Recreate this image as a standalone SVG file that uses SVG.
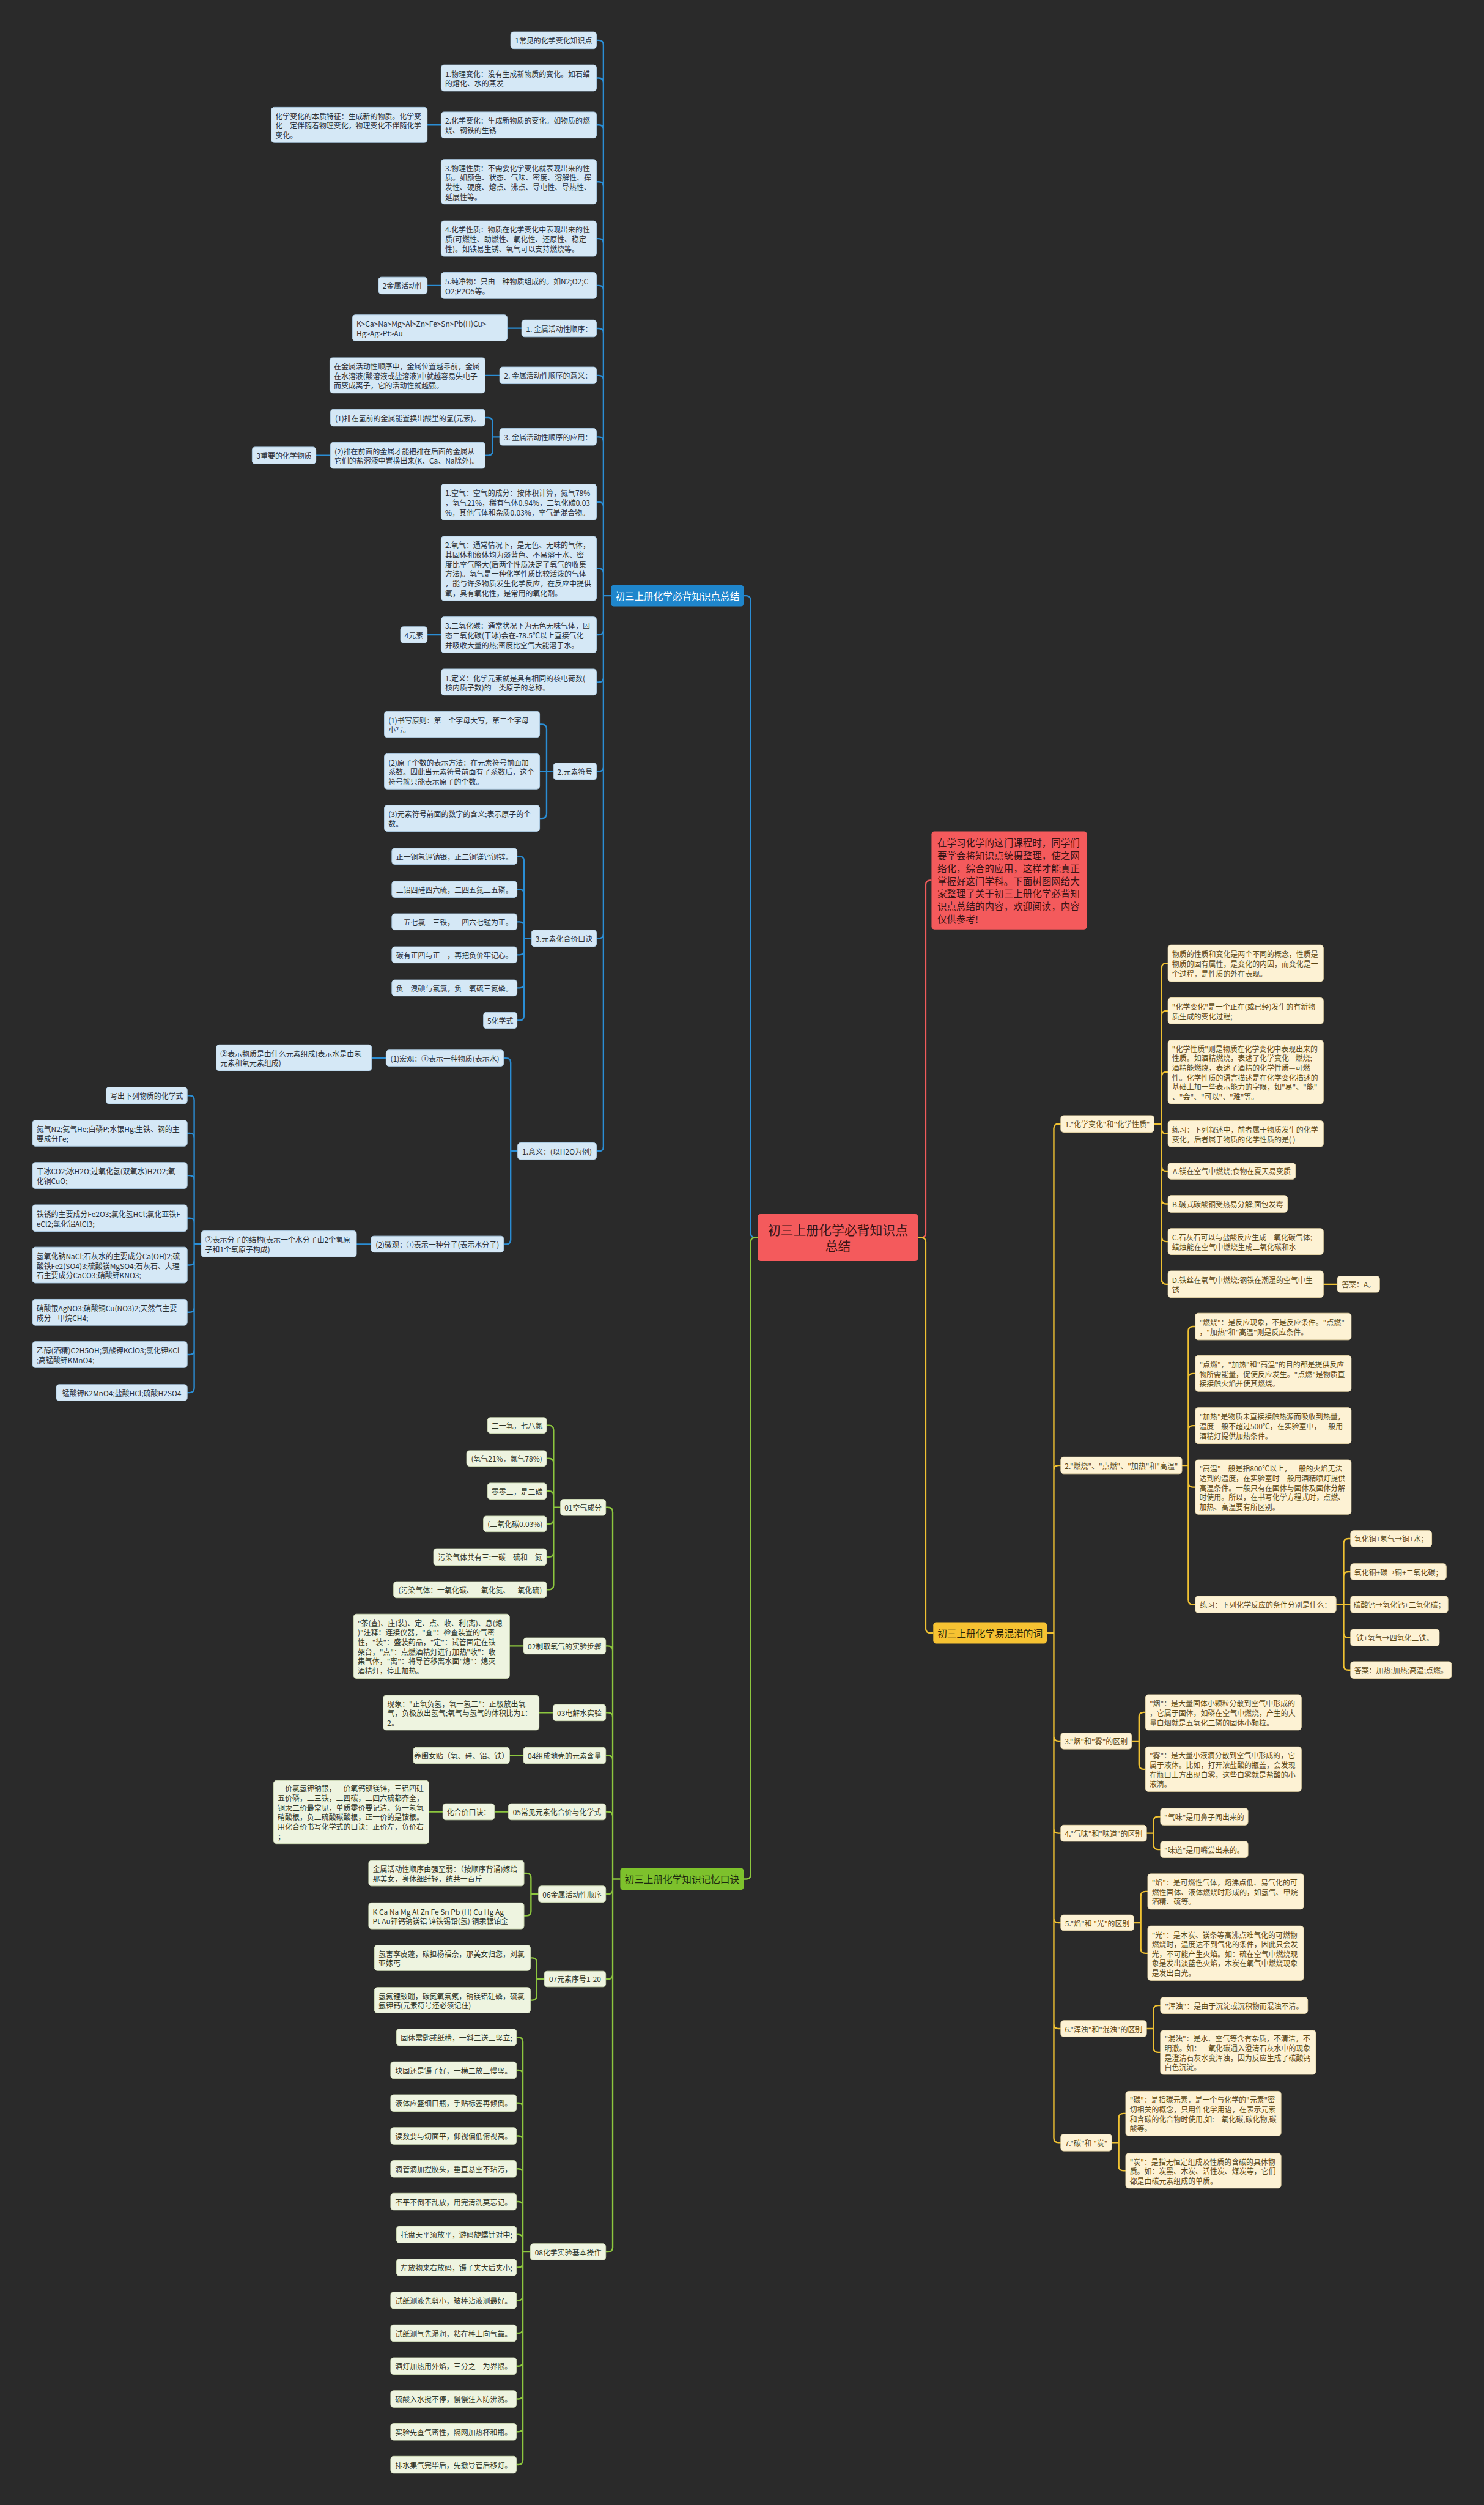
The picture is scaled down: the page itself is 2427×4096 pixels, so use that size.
<svg xmlns="http://www.w3.org/2000/svg" width="2427" height="4096" viewBox="0 0 2427 4096">
<style>
text{font-family:"Noto Sans CJK SC","Noto Sans",sans-serif;dominant-baseline:central}
rect{rx:5px;ry:5px}
.nb{fill:#d5e8f6;stroke:#aecde6;stroke-width:1}
.ng{fill:#eef4e0;stroke:#cfdcb6;stroke-width:1}
.ny{fill:#fdf2d4;stroke:#e8d7a8;stroke-width:1}
.t{font-size:12.6px}
.tb{fill:#2a2f36}
.tg{fill:#2f3527}
.ty{fill:#5b4714}
.c{text-anchor:middle}
.lb{fill:none;stroke:#2a8dd4;stroke-width:2.5}
.lg{fill:none;stroke:#8cc63e;stroke-width:2.5}
.ly{fill:none;stroke:#efc132;stroke-width:2.5}
.lr{fill:none;stroke:#f05b5b;stroke-width:2.5}
.br{font-size:16.5px}
</style>
<rect x="0" y="0" width="2427" height="4096" fill="#2a2a2a" style="rx:0;ry:0"/>
<g transform="scale(0.948)">
<g id="connectors">
<path class="lr" d="M1584,2134.5H1589Q1597,2134.5 1597,2126.5V1526.5Q1597,1518.5 1605,1518.5H1607"/>
<path class="ly" d="M1584,2134.5H1589Q1597,2134.5 1597,2142.5V2808.5Q1597,2816.5 1605,2816.5H1610"/>
<path class="lb" d="M1307,2134.5H1303Q1295,2134.5 1295,2126.5V1035.5Q1295,1027.5 1287,1027.5H1283"/>
<path class="lg" d="M1307,2134.5H1303Q1295,2134.5 1295,2142.5V3233Q1295,3241 1287,3241H1283"/>
<path class="lb" d="M1054,1027.5H1041M1041,77.5V1977.5M1029,69.5H1033Q1041,69.5 1041,77.5M1029,134.5H1033Q1041,134.5 1041,142.5M1029,215.5H1033Q1041,215.5 1041,223.5M1029,313.5H1033Q1041,313.5 1041,321.5M1029,411.5H1033Q1041,411.5 1041,419.5M1029,492.5H1033Q1041,492.5 1041,500.5M1029,566.5H1033Q1041,566.5 1041,574.5M1029,647.5H1033Q1041,647.5 1041,655.5M1029,753.5H1033Q1041,753.5 1041,761.5M1029,866H1033Q1041,866 1041,874M1029,980.5H1033Q1041,980.5 1041,988.5M1029,1095H1033Q1041,1095 1041,1087M1029,1176.5H1033Q1041,1176.5 1041,1168.5M1029,1330.5H1033Q1041,1330.5 1041,1322.5M1029,1618.5H1033Q1041,1618.5 1041,1610.5M1029,1985.5H1033Q1041,1985.5 1041,1977.5"/>
<path class="lb" d="M761,215.5H737M761,492.5H737M900,566H875M862,647.5H837M570,785.5H545M761,1095H737M666,1825H641M640,2146H615"/>
<path class="lb" d="M862,753.5H850M850,728.5V777.5M837,720.5H842Q850,720.5 850,728.5M837,785.5H842Q850,785.5 850,777.5"/>
<path class="lb" d="M955,1330.5H943M943,1257.5V1403.5M931,1249.5H935Q943,1249.5 943,1257.5M931,1330.5H943M931,1411.5H935Q943,1411.5 943,1403.5"/>
<path class="lb" d="M917,1618.5H904M904,1485V1752M892,1477H896Q904,1477 904,1485M892,1534H896Q904,1534 904,1542M892,1590H896Q904,1590 904,1598M892,1647H896Q904,1647 904,1639M892,1704H896Q904,1704 904,1696M892,1760H896Q904,1760 904,1752"/>
<path class="lb" d="M893,1985.5H881M881,1833V2138M869,1825H873Q881,1825 881,1833M869,2146H873Q881,2146 881,2138"/>
<path class="lb" d="M347,2145.5H335M335,1897.5V2394M323,1889.5H327Q335,1889.5 335,1897.5M323,1954.5H327Q335,1954.5 335,1962.5M323,2027.5H327Q335,2027.5 335,2035.5M323,2101H327Q335,2101 335,2109M323,2182H327Q335,2182 335,2174M323,2263.5H327Q335,2263.5 335,2255.5M323,2336.5H327Q335,2336.5 335,2328.5M323,2402H327Q335,2402 335,2394"/>
<path class="lg" d="M1070,3241H1057M1057,2608V3876M1045,2600H1049Q1057,2600 1057,2608M1045,2839H1049Q1057,2839 1057,2847M1045,2954H1049Q1057,2954 1057,2962M1045,3028H1049Q1057,3028 1057,3036M1045,3125H1049Q1057,3125 1057,3133M1045,3267H1049Q1057,3267 1057,3259M1045,3413.5H1049Q1057,3413.5 1057,3405.5M1045,3884H1049Q1057,3884 1057,3876"/>
<path class="lg" d="M967,2600H955M955,2466.5V2734M943,2458.5H947Q955,2458.5 955,2466.5M943,2515.5H947Q955,2515.5 955,2523.5M943,2572H947Q955,2572 955,2580M943,2628.5H947Q955,2628.5 955,2620.5M943,2685.5H947Q955,2685.5 955,2677.5M943,2742H947Q955,2742 955,2734"/>
<path class="lg" d="M903,2839H879M954,2954H930M903,3028H879M877,3125H853M764,3125H740"/>
<path class="lg" d="M929,3267H916M916,3239V3296.5M904,3231H908Q916,3231 916,3239M904,3304.5H908Q916,3304.5 916,3296.5"/>
<path class="lg" d="M939,3413.5H926M926,3385V3442M915,3377H918Q926,3377 926,3385M915,3450H918Q926,3450 926,3442"/>
<path class="lg" d="M915,3884H902M902,3522V4243.1M891,3514H894Q902,3514 902,3522M891,3570.7H894Q902,3570.7 902,3578.7M891,3627.4H894Q902,3627.4 902,3635.4M891,3684.1H894Q902,3684.1 902,3692.1M891,3740.8H894Q902,3740.8 902,3748.8M891,3797.5H894Q902,3797.5 902,3805.5M891,3854.2H894Q902,3854.2 902,3862.2M891,3910.9H894Q902,3910.9 902,3902.9M891,3967.6H894Q902,3967.6 902,3959.6M891,4024.3H894Q902,4024.3 902,4016.3M891,4081H894Q902,4081 902,4073M891,4137.7H894Q902,4137.7 902,4129.7M891,4194.4H894Q902,4194.4 902,4186.4M891,4251.1H894Q902,4251.1 902,4243.1"/>
<path class="ly" d="M1806,2816.5H1818M1818,1946.5V3687.5M1830,1938.5H1826Q1818,1938.5 1818,1946.5M1830,2527.5H1826Q1818,2527.5 1818,2535.5M1830,3003H1826Q1818,3003 1818,2995M1830,3162H1826Q1818,3162 1818,3154M1830,3316.5H1826Q1818,3316.5 1818,3308.5M1830,3499H1826Q1818,3499 1818,3491M1830,3695.5H1826Q1818,3695.5 1818,3687.5"/>
<path class="ly" d="M1991,1938.5H2004M2004,1669.5V2207M2015,1661.5H2012Q2004,1661.5 2004,1669.5M2015,1743.5H2012Q2004,1743.5 2004,1751.5M2015,1849H2012Q2004,1849 2004,1857M2015,1955.5H2012Q2004,1955.5 2004,1947.5M2015,2020H2012Q2004,2020 2004,2012M2015,2076.5H2012Q2004,2076.5 2004,2068.5M2015,2141.5H2012Q2004,2141.5 2004,2133.5M2015,2215H2012Q2004,2215 2004,2207M2283,2215H2307"/>
<path class="ly" d="M2039,2527.5H2050M2050,2296V2759.5M2062,2288H2058Q2050,2288 2050,2296M2062,2369H2058Q2050,2369 2050,2377M2062,2459H2058Q2050,2459 2050,2467M2062,2565H2058Q2050,2565 2050,2557M2062,2767.5H2058Q2050,2767.5 2050,2759.5"/>
<path class="ly" d="M2305,2767.5H2330M2318,2662V2872.5M2330,2654H2326Q2318,2654 2318,2662M2330,2711H2326Q2318,2711 2318,2719M2330,2824.5H2326Q2318,2824.5 2318,2816.5M2330,2880.5H2326Q2318,2880.5 2318,2872.5"/>
<path class="ly" d="M1952,3003H1965M1965,2961.5V3043.5M1976,2953.5H1973Q1965,2953.5 1965,2961.5M1976,3051.5H1973Q1965,3051.5 1965,3043.5"/>
<path class="ly" d="M1978,3162H1990M1990,3141.5V3182M2002,3133.5H1998Q1990,3133.5 1990,3141.5M2002,3190H1998Q1990,3190 1990,3182"/>
<path class="ly" d="M1956,3316.5H1968M1968,3270.5V3361M1980,3262.5H1976Q1968,3262.5 1968,3270.5M1980,3369H1976Q1968,3369 1968,3361"/>
<path class="ly" d="M1978,3499H1990M1990,3467V3532M2002,3459H1998Q1990,3459 1990,3467M2002,3540H1998Q1990,3540 1990,3532"/>
<path class="ly" d="M1918,3695.5H1930M1930,3653.5V3736M1942,3645.5H1938Q1930,3645.5 1930,3653.5M1942,3744H1938Q1930,3744 1930,3736"/>
</g>

<g id="root"><rect x="1307" y="2094" width="277" height="81" fill="#f45a5c"/><text x="1445.5" y="2120" class="c" font-size="22" fill="#3a1414"><tspan x="1445.5" dy="0">初三上册化学必背知识点</tspan><tspan x="1445.5" dy="28">总结</tspan></text></g>
<g id="intro"><rect x="1607" y="1434" width="268" height="169" fill="#f45a5c"/><text x="1617" y="1452.5" font-size="16.4" fill="#3a1414"><tspan x="1617" dy="0">在学习化学的这门课程时，同学们</tspan><tspan x="1617" dy="22">要学会将知识点统摄整理，使之网</tspan><tspan x="1617" dy="22">络化，综合的应用，这样才能真正</tspan><tspan x="1617" dy="22">掌握好这门学科。下面树图网给大</tspan><tspan x="1617" dy="22">家整理了关于初三上册化学必背知</tspan><tspan x="1617" dy="22">识点总结的内容，欢迎阅读，内容</tspan><tspan x="1617" dy="22">仅供参考!</tspan></text></g>

<g id="b0"><rect x="1054" y="1009" width="229" height="37" fill="#1f86cc"/><text x="1168.5" y="1027.5" class="br c" fill="#ffffff">初三上册化学必背知识点总结</text></g>
<g id="b1"><rect class="nb" x="881" y="55" width="148" height="29"/><text class="t tb c" x="955" y="69.5">1常见的化学变化知识点</text></g>
<g id="b2"><rect class="nb" x="761" y="112" width="268" height="45"/><text class="t tb" x="768" y="126.25"><tspan x="768" dy="0">1.物理变化：没有生成新物质的变化。如石蜡</tspan><tspan x="768" dy="16.5">的熔化、水的蒸发</tspan></text></g>
<g id="b3"><rect class="nb" x="761" y="193" width="268" height="45"/><text class="t tb" x="768" y="207.25"><tspan x="768" dy="0">2.化学变化：生成新物质的变化。如物质的燃</tspan><tspan x="768" dy="16.5">烧、钢铁的生锈</tspan></text></g>
<g id="b3a"><rect class="nb" x="468" y="185" width="269" height="61"/><text class="t tb" x="475" y="199"><tspan x="475" dy="0">化学变化的本质特征：生成新的物质。化学变</tspan><tspan x="475" dy="16.5">化一定伴随着物理变化，物理变化不伴随化学</tspan><tspan x="475" dy="16.5">变化。</tspan></text></g>
<g id="b4"><rect class="nb" x="761" y="275" width="268" height="77"/><text class="t tb" x="768" y="288.75"><tspan x="768" dy="0">3.物理性质：不需要化学变化就表现出来的性</tspan><tspan x="768" dy="16.5">质。如颜色、状态、气味、密度、溶解性、挥</tspan><tspan x="768" dy="16.5">发性、硬度、熔点、沸点、导电性、导热性、</tspan><tspan x="768" dy="16.5">延展性等。</tspan></text></g>
<g id="b5"><rect class="nb" x="761" y="381" width="268" height="61"/><text class="t tb" x="768" y="395"><tspan x="768" dy="0">4.化学性质：物质在化学变化中表现出来的性</tspan><tspan x="768" dy="16.5">质(可燃性、助燃性、氧化性、还原性、稳定</tspan><tspan x="768" dy="16.5">性)。如铁易生锈、氧气可以支持燃烧等。</tspan></text></g>
<g id="b6"><rect class="nb" x="761" y="470" width="268" height="45"/><text class="t tb" x="768" y="484.25"><tspan x="768" dy="0">5.纯净物：只由一种物质组成的。如N2;O2;C</tspan><tspan x="768" dy="16.5">O2;P2O5等。</tspan></text></g>
<g id="b6a"><rect class="nb" x="653" y="478" width="84" height="29"/><text class="t tb c" x="695" y="492.5">2金属活动性</text></g>
<g id="b7"><rect class="nb" x="900" y="552" width="129" height="29"/><text class="t tb c" x="964.5" y="566.5">1. 金属活动性顺序：</text></g>
<g id="b7a"><rect class="nb" x="608" y="543" width="267" height="45"/><text class="t tb" x="615" y="557.25"><tspan x="615" dy="0">K&gt;Ca&gt;Na&gt;Mg&gt;Al&gt;Zn&gt;Fe&gt;Sn&gt;Pb(H)Cu&gt;</tspan><tspan x="615" dy="16.5">Hg&gt;Ag&gt;Pt&gt;Au</tspan></text></g>
<g id="b8"><rect class="nb" x="862" y="633" width="167" height="29"/><text class="t tb c" x="945.5" y="647.5">2. 金属活动性顺序的意义：</text></g>
<g id="b8a"><rect class="nb" x="569" y="617" width="268" height="61"/><text class="t tb" x="576" y="631"><tspan x="576" dy="0">在金属活动性顺序中，金属位置越靠前，金属</tspan><tspan x="576" dy="16.5">在水溶液(酸溶液或盐溶液)中就越容易失电子</tspan><tspan x="576" dy="16.5">而变成离子，它的活动性就越强。</tspan></text></g>
<g id="b9"><rect class="nb" x="862" y="739" width="167" height="29"/><text class="t tb c" x="945.5" y="753.5">3. 金属活动性顺序的应用：</text></g>
<g id="b9a"><rect class="nb" x="570" y="706" width="267" height="29"/><text class="t tb c" x="703.5" y="720.5">(1)排在氢前的金属能置换出酸里的氢(元素)。</text></g>
<g id="b9b"><rect class="nb" x="570" y="763" width="267" height="45"/><text class="t tb" x="577" y="777.25"><tspan x="577" dy="0">(2)排在前面的金属才能把排在后面的金属从</tspan><tspan x="577" dy="16.5">它们的盐溶液中置换出来(K、Ca、Na除外)。</tspan></text></g>
<g id="b9b1"><rect class="nb" x="435" y="771" width="110" height="29"/><text class="t tb c" x="490" y="785.5">3重要的化学物质</text></g>
<g id="b10"><rect class="nb" x="761" y="835" width="268" height="62"/><text class="t tb" x="768" y="849.5"><tspan x="768" dy="0">1.空气：空气的成分：按体积计算，氮气78%</tspan><tspan x="768" dy="16.5">，氧气21%，稀有气体0.94%，二氧化碳0.03</tspan><tspan x="768" dy="16.5">%，其他气体和杂质0.03%，空气是混合物。</tspan></text></g>
<g id="b11"><rect class="nb" x="761" y="925" width="268" height="111"/><text class="t tb" x="768" y="939.25"><tspan x="768" dy="0">2.氧气：通常情况下，是无色、无味的气体，</tspan><tspan x="768" dy="16.5">其固体和液体均为淡蓝色、不易溶于水、密</tspan><tspan x="768" dy="16.5">度比空气略大(后两个性质决定了氧气的收集</tspan><tspan x="768" dy="16.5">方法)。氧气是一种化学性质比较活泼的气体</tspan><tspan x="768" dy="16.5">，能与许多物质发生化学反应，在反应中提供</tspan><tspan x="768" dy="16.5">氧，具有氧化性，是常用的氧化剂。</tspan></text></g>
<g id="b12"><rect class="nb" x="761" y="1064" width="268" height="62"/><text class="t tb" x="768" y="1078.5"><tspan x="768" dy="0">3.二氧化碳：通常状况下为无色无味气体，固</tspan><tspan x="768" dy="16.5">态二氧化碳(干冰)会在-78.5℃以上直接气化</tspan><tspan x="768" dy="16.5">并吸收大量的热;密度比空气大能溶于水。</tspan></text></g>
<g id="b12a"><rect class="nb" x="691" y="1081" width="46" height="28"/><text class="t tb c" x="714" y="1095">4元素</text></g>
<g id="b13"><rect class="nb" x="761" y="1154" width="268" height="45"/><text class="t tb" x="768" y="1168.25"><tspan x="768" dy="0">1.定义：化学元素就是具有相同的核电荷数(</tspan><tspan x="768" dy="16.5">核内质子数)的一类原子的总称。</tspan></text></g>
<g id="b14"><rect class="nb" x="955" y="1316" width="74" height="29"/><text class="t tb c" x="992" y="1330.5">2.元素符号</text></g>
<g id="b14a"><rect class="nb" x="663" y="1227" width="268" height="45"/><text class="t tb" x="670" y="1241.25"><tspan x="670" dy="0">(1)书写原则：第一个字母大写，第二个字母</tspan><tspan x="670" dy="16.5">小写。</tspan></text></g>
<g id="b14b"><rect class="nb" x="663" y="1300" width="268" height="61"/><text class="t tb" x="670" y="1314"><tspan x="670" dy="0">(2)原子个数的表示方法：在元素符号前面加</tspan><tspan x="670" dy="16.5">系数。因此当元素符号前面有了系数后，这个</tspan><tspan x="670" dy="16.5">符号就只能表示原子的个数。</tspan></text></g>
<g id="b14c"><rect class="nb" x="663" y="1389" width="268" height="45"/><text class="t tb" x="670" y="1403.25"><tspan x="670" dy="0">(3)元素符号前面的数字的含义;表示原子的个</tspan><tspan x="670" dy="16.5">数。</tspan></text></g>
<g id="b15"><rect class="nb" x="917" y="1604" width="112" height="29"/><text class="t tb c" x="973" y="1618.5">3.元素化合价口诀</text></g>
<g id="b15a"><rect class="nb" x="676" y="1463" width="216" height="28"/><text class="t tb c" x="784" y="1477">正一铜氢钾钠银，正二铜镁钙钡锌。</text></g>
<g id="b15b"><rect class="nb" x="676" y="1520" width="216" height="28"/><text class="t tb c" x="784" y="1534">三铝四硅四六硫，二四五氮三五磷。</text></g>
<g id="b15c"><rect class="nb" x="676" y="1576" width="216" height="28"/><text class="t tb c" x="784" y="1590">一五七氯二三铁，二四六七锰为正。</text></g>
<g id="b15d"><rect class="nb" x="676" y="1633" width="216" height="28"/><text class="t tb c" x="784" y="1647">碳有正四与正二，再把负价牢记心。</text></g>
<g id="b15e"><rect class="nb" x="676" y="1690" width="216" height="28"/><text class="t tb c" x="784" y="1704">负一溴碘与氟氯，负二氧硫三氮磷。</text></g>
<g id="b15f"><rect class="nb" x="834" y="1746" width="58" height="28"/><text class="t tb c" x="863" y="1760">5化学式</text></g>
<g id="b16"><rect class="nb" x="893" y="1971" width="136" height="29"/><text class="t tb c" x="961" y="1985.5">1.意义：(以H2O为例)</text></g>
<g id="b16a"><rect class="nb" x="666" y="1811" width="203" height="28"/><text class="t tb c" x="767.5" y="1825">(1)宏观：①表示一种物质(表示水)</text></g>
<g id="b16a1"><rect class="nb" x="373" y="1802" width="268" height="45"/><text class="t tb" x="380" y="1816.25"><tspan x="380" dy="0">②表示物质是由什么元素组成(表示水是由氢</tspan><tspan x="380" dy="16.5">元素和氧元素组成)</tspan></text></g>
<g id="b16b"><rect class="nb" x="640" y="2132" width="229" height="28"/><text class="t tb c" x="754.5" y="2146">(2)微观：①表示一种分子(表示水分子)</text></g>
<g id="b16b1"><rect class="nb" x="347" y="2123" width="268" height="45"/><text class="t tb" x="354" y="2137.25"><tspan x="354" dy="0">②表示分子的结构(表示一个水分子由2个氢原</tspan><tspan x="354" dy="16.5">子和1个氧原子构成)</tspan></text></g>
<g id="c0"><rect class="nb" x="183" y="1875" width="140" height="29"/><text class="t tb c" x="253" y="1889.5">写出下列物质的化学式</text></g>
<g id="c1"><rect class="nb" x="56" y="1932" width="267" height="45"/><text class="t tb" x="63" y="1946.25"><tspan x="63" dy="0">氮气N2;氦气He;白磷P;水银Hg;生铁、钢的主</tspan><tspan x="63" dy="16.5">要成分Fe;</tspan></text></g>
<g id="c2"><rect class="nb" x="56" y="2005" width="267" height="45"/><text class="t tb" x="63" y="2019.25"><tspan x="63" dy="0">干冰CO2;冰H2O;过氧化氢(双氧水)H2O2;氧</tspan><tspan x="63" dy="16.5">化铜CuO;</tspan></text></g>
<g id="c3"><rect class="nb" x="56" y="2078" width="267" height="46"/><text class="t tb" x="63" y="2092.75"><tspan x="63" dy="0">铁锈的主要成分Fe2O3;氯化氢HCl;氯化亚铁F</tspan><tspan x="63" dy="16.5">eCl2;氯化铝AlCl3;</tspan></text></g>
<g id="c4"><rect class="nb" x="56" y="2151" width="267" height="62"/><text class="t tb" x="63" y="2165.5"><tspan x="63" dy="0">氢氧化钠NaCl;石灰水的主要成分Ca(OH)2;硫</tspan><tspan x="63" dy="16.5">酸铁Fe2(SO4)3;硫酸镁MgSO4;石灰石、大理</tspan><tspan x="63" dy="16.5">石主要成分CaCO3;硝酸钾KNO3;</tspan></text></g>
<g id="c5"><rect class="nb" x="56" y="2241" width="267" height="45"/><text class="t tb" x="63" y="2255.25"><tspan x="63" dy="0">硝酸银AgNO3;硝酸铜Cu(NO3)2;天然气主要</tspan><tspan x="63" dy="16.5">成分—甲烷CH4;</tspan></text></g>
<g id="c6"><rect class="nb" x="56" y="2314" width="267" height="45"/><text class="t tb" x="63" y="2328.25"><tspan x="63" dy="0">乙醇(酒精)C2H5OH;氯酸钾KClO3;氯化钾KCl</tspan><tspan x="63" dy="16.5">;高锰酸钾KMnO4;</tspan></text></g>
<g id="c7"><rect class="nb" x="97" y="2388" width="226" height="28"/><text class="t tb c" x="210" y="2402">锰酸钾K2MnO4;盐酸HCl;硫酸H2SO4</text></g>

<g id="g0"><rect x="1070" y="3222" width="213" height="38" fill="#7dc12c"/><text x="1176.5" y="3241" class="br c" fill="#1e2a10">初三上册化学知识记忆口诀</text></g>
<g id="g1"><rect class="ng" x="967" y="2586" width="78" height="28"/><text class="t tg c" x="1006" y="2600">01空气成分</text></g>
<g id="g1a"><rect class="ng" x="841" y="2445" width="102" height="27"/><text class="t tg c" x="892" y="2458.5">二一氧，七八氮</text></g>
<g id="g1b"><rect class="ng" x="805" y="2502" width="138" height="27"/><text class="t tg c" x="874" y="2515.5">(氧气21%，氮气78%)</text></g>
<g id="g1c"><rect class="ng" x="841" y="2558" width="102" height="28"/><text class="t tg c" x="892" y="2572">零零三，是二碳</text></g>
<g id="g1d"><rect class="ng" x="834" y="2615" width="109" height="27"/><text class="t tg c" x="888.5" y="2628.5">(二氧化碳0.03%)</text></g>
<g id="g1e"><rect class="ng" x="748" y="2671" width="195" height="29"/><text class="t tg c" x="845.5" y="2685.5">污染气体共有三:一碳二硫和二氮</text></g>
<g id="g1f"><rect class="ng" x="679" y="2728" width="264" height="28"/><text class="t tg c" x="811" y="2742">(污染气体：一氧化碳、二氧化氮、二氧化硫)</text></g>
<g id="g2"><rect class="ng" x="903" y="2825" width="142" height="28"/><text class="t tg c" x="974" y="2839">02制取氧气的实验步骤</text></g>
<g id="g2a"><rect class="ng" x="610" y="2784" width="269" height="111"/><text class="t tg" x="617" y="2798.25"><tspan x="617" dy="0">"茶(查)、庄(装)、定、点、收、利(离)、息(熄</tspan><tspan x="617" dy="16.5">)"注释：连接仪器，"查"：检查装置的气密</tspan><tspan x="617" dy="16.5">性，"装"：盛装药品，"定"：试管固定在铁</tspan><tspan x="617" dy="16.5">架台，"点"：点燃酒精灯进行加热"收"：收</tspan><tspan x="617" dy="16.5">集气体，"离"：将导管移离水面"熄"：熄灭</tspan><tspan x="617" dy="16.5">酒精灯，停止加热。</tspan></text></g>
<g id="g3"><rect class="ng" x="954" y="2940" width="91" height="28"/><text class="t tg c" x="999.5" y="2954">03电解水实验</text></g>
<g id="g3a"><rect class="ng" x="661" y="2924" width="269" height="60"/><text class="t tg" x="668" y="2937.5"><tspan x="668" dy="0">现象："正氧负氢，氧一氢二"：正极放出氧</tspan><tspan x="668" dy="16.5">气，负极放出氢气;氧气与氢气的体积比为1：</tspan><tspan x="668" dy="16.5">2。</tspan></text></g>
<g id="g4"><rect class="ng" x="903" y="3014" width="142" height="28"/><text class="t tg c" x="974" y="3028">04组成地壳的元素含量</text></g>
<g id="g4a"><rect class="ng" x="713" y="3014" width="166" height="28"/><text class="t tg c" x="796" y="3028">养闺女贴（氧、硅、铝、铁）</text></g>
<g id="g5"><rect class="ng" x="877" y="3111" width="168" height="28"/><text class="t tg c" x="961" y="3125">05常见元素化合价与化学式</text></g>
<g id="g5a"><rect class="ng" x="764" y="3111" width="89" height="28"/><text class="t tg c" x="808.5" y="3125">化合价口诀：</text></g>
<g id="g5b"><rect class="ng" x="472" y="3071" width="268" height="109"/><text class="t tg" x="479" y="3083.75"><tspan x="479" dy="0">一价氯氢钾钠银，二价氧钙钡镁锌，三铝四硅</tspan><tspan x="479" dy="16.5">五价磷，二三铁，二四碳，二四六硫都齐全，</tspan><tspan x="479" dy="16.5">铜汞二价最常见，单质零价要记清。负一氢氧</tspan><tspan x="479" dy="16.5">硝酸根，负二硫酸碳酸根，正一价的是铵根。</tspan><tspan x="479" dy="16.5">用化合价书写化学式的口诀：正价左，负价右</tspan><tspan x="479" dy="16.5">；</tspan></text></g>
<g id="g6"><rect class="ng" x="929" y="3253" width="116" height="28"/><text class="t tg c" x="987" y="3267">06金属活动性顺序</text></g>
<g id="g6a"><rect class="ng" x="636" y="3209" width="268" height="44"/><text class="t tg" x="643" y="3222.75"><tspan x="643" dy="0">金属活动性顺序由强至弱：（按顺序背诵)嫁给</tspan><tspan x="643" dy="16.5">那美女，身体细纤轻，统共一百斤</tspan></text></g>
<g id="g6b"><rect class="ng" x="636" y="3282" width="268" height="45"/><text class="t tg" x="643" y="3296.25"><tspan x="643" dy="0">K Ca Na Mg Al Zn Fe Sn Pb (H) Cu Hg Ag</tspan><tspan x="643" dy="16.5">Pt Au钾钙钠镁铝 锌铁锡铅(氢) 铜汞银铂金</tspan></text></g>
<g id="g7"><rect class="ng" x="939" y="3400" width="106" height="27"/><text class="t tg c" x="992" y="3413.5">07元素序号1-20</text></g>
<g id="g7a"><rect class="ng" x="646" y="3355" width="269" height="44"/><text class="t tg" x="653" y="3368.75"><tspan x="653" dy="0">氢害李皮蓬，碳担杨福奈，那美女归您，刘氯</tspan><tspan x="653" dy="16.5">亚嫁丐</tspan></text></g>
<g id="g7b"><rect class="ng" x="646" y="3428" width="269" height="44"/><text class="t tg" x="653" y="3441.75"><tspan x="653" dy="0">氢氦锂铍硼，碳氮氧氟氖，钠镁铝硅磷，硫氯</tspan><tspan x="653" dy="16.5">氩钾钙(元素符号还必须记住)</tspan></text></g>
<g id="g8"><rect class="ng" x="915" y="3870" width="130" height="28"/><text class="t tg c" x="980" y="3884">08化学实验基本操作</text></g>
<g id="g8a"><rect class="ng" x="684" y="3499.5" width="207" height="29"/><text class="t tg c" x="787.5" y="3514">固体需匙或纸槽，一斜二送三竖立;</text></g>
<g id="g8b"><rect class="ng" x="674" y="3556.2" width="217" height="29"/><text class="t tg c" x="782.5" y="3570.7">块固还是镊子好，一横二放三慢竖。</text></g>
<g id="g8c"><rect class="ng" x="674" y="3612.9" width="217" height="29"/><text class="t tg c" x="782.5" y="3627.4">液体应盛细口瓶，手贴标签再倾倒。</text></g>
<g id="g8d"><rect class="ng" x="674" y="3669.6" width="217" height="29"/><text class="t tg c" x="782.5" y="3684.1">读数要与切面平，仰视偏低俯视高。</text></g>
<g id="g8e"><rect class="ng" x="674" y="3726.3" width="217" height="29"/><text class="t tg c" x="782.5" y="3740.8">滴管滴加捏胶头，垂直悬空不玷污，</text></g>
<g id="g8f"><rect class="ng" x="674" y="3783" width="217" height="29"/><text class="t tg c" x="782.5" y="3797.5">不平不倒不乱放，用完清洗莫忘记。</text></g>
<g id="g8g"><rect class="ng" x="684" y="3839.7" width="207" height="29"/><text class="t tg c" x="787.5" y="3854.2">托盘天平须放平，游码旋螺针对中;</text></g>
<g id="g8h"><rect class="ng" x="684" y="3896.4" width="207" height="29"/><text class="t tg c" x="787.5" y="3910.9">左放物来右放码，镊子夹大后夹小;</text></g>
<g id="g8i"><rect class="ng" x="674" y="3953.1" width="217" height="29"/><text class="t tg c" x="782.5" y="3967.6">试纸测液先剪小，玻棒沾液测最好。</text></g>
<g id="g8j"><rect class="ng" x="674" y="4009.8" width="217" height="29"/><text class="t tg c" x="782.5" y="4024.3">试纸测气先湿润，粘在棒上向气靠。</text></g>
<g id="g8k"><rect class="ng" x="674" y="4066.5" width="217" height="29"/><text class="t tg c" x="782.5" y="4081">酒灯加热用外焰，三分之二为界限。</text></g>
<g id="g8l"><rect class="ng" x="674" y="4123.2" width="217" height="29"/><text class="t tg c" x="782.5" y="4137.7">硫酸入水搅不停，慢慢注入防沸溅。</text></g>
<g id="g8m"><rect class="ng" x="674" y="4179.9" width="217" height="29"/><text class="t tg c" x="782.5" y="4194.4">实验先查气密性，隔网加热杯和瓶。</text></g>
<g id="g8n"><rect class="ng" x="674" y="4236.6" width="217" height="29"/><text class="t tg c" x="782.5" y="4251.1">排水集气完毕后，先撤导管后移灯。</text></g>

<g id="y0"><rect x="1610" y="2798" width="196" height="37" fill="#f6c232"/><text x="1708" y="2816.5" class="br c" fill="#2e2608">初三上册化学易混淆的词</text></g>
<g id="y1"><rect class="ny" x="1830" y="1924" width="161" height="29"/><text class="t ty c" x="1910.5" y="1938.5">1."化学变化"和"化学性质"</text></g>
<g id="y1a"><rect class="ny" x="2015" y="1630" width="268" height="63"/><text class="t ty" x="2022" y="1645"><tspan x="2022" dy="0">物质的性质和变化是两个不同的概念，性质是</tspan><tspan x="2022" dy="16.5">物质的固有属性，是变化的内因，而变化是一</tspan><tspan x="2022" dy="16.5">个过程，是性质的外在表现。</tspan></text></g>
<g id="y1b"><rect class="ny" x="2015" y="1721" width="268" height="45"/><text class="t ty" x="2022" y="1735.25"><tspan x="2022" dy="0">"化学变化"是一个正在(或已经)发生的有新物</tspan><tspan x="2022" dy="16.5">质生成的变化过程;</tspan></text></g>
<g id="y1c"><rect class="ny" x="2015" y="1794" width="268" height="110"/><text class="t ty" x="2022" y="1807.75"><tspan x="2022" dy="0">"化学性质"则是物质在化学变化中表现出来的</tspan><tspan x="2022" dy="16.5">性质。如酒精燃烧，表述了化学变化—燃烧;</tspan><tspan x="2022" dy="16.5">酒精能燃烧，表述了酒精的化学性质—可燃</tspan><tspan x="2022" dy="16.5">性。化学性质的语言描述是在化学变化描述的</tspan><tspan x="2022" dy="16.5">基础上加一些表示能力的字眼，如"易"、"能"</tspan><tspan x="2022" dy="16.5">、"会"、"可以"、"难"等。</tspan></text></g>
<g id="y1d"><rect class="ny" x="2015" y="1933" width="268" height="45"/><text class="t ty" x="2022" y="1947.25"><tspan x="2022" dy="0">练习：下列叙述中，前者属于物质发生的化学</tspan><tspan x="2022" dy="16.5">变化，后者属于物质的化学性质的是( )</tspan></text></g>
<g id="y1e"><rect class="ny" x="2015" y="2006" width="220" height="28"/><text class="t ty c" x="2125" y="2020">A.镁在空气中燃烧;食物在夏天易变质</text></g>
<g id="y1f"><rect class="ny" x="2015" y="2062" width="206" height="29"/><text class="t ty c" x="2118" y="2076.5">B.碱式碳酸铜受热易分解;面包发霉</text></g>
<g id="y1g"><rect class="ny" x="2015" y="2119" width="268" height="45"/><text class="t ty" x="2022" y="2133.25"><tspan x="2022" dy="0">C.石灰石可以与盐酸反应生成二氧化碳气体;</tspan><tspan x="2022" dy="16.5">蜡烛能在空气中燃烧生成二氧化碳和水</tspan></text></g>
<g id="y1h"><rect class="ny" x="2015" y="2192" width="268" height="46"/><text class="t ty" x="2022" y="2206.75"><tspan x="2022" dy="0">D.铁丝在氧气中燃烧;钢铁在潮湿的空气中生</tspan><tspan x="2022" dy="16.5">锈</tspan></text></g>
<g id="y1h1"><rect class="ny" x="2307" y="2201" width="73" height="28"/><text class="t ty c" x="2343.5" y="2215">答案：A。</text></g>
<g id="y2"><rect class="ny" x="1830" y="2513" width="209" height="29"/><text class="t ty c" x="1934.5" y="2527.5">2."燃烧"、"点燃"、"加热"和"高温"</text></g>
<g id="y2a"><rect class="ny" x="2062" y="2265" width="269" height="46"/><text class="t ty" x="2069" y="2279.75"><tspan x="2069" dy="0">"燃烧"：是反应现象，不是反应条件。"点燃"</tspan><tspan x="2069" dy="16.5">，"加热"和"高温"则是反应条件。</tspan></text></g>
<g id="y2b"><rect class="ny" x="2062" y="2338" width="269" height="62"/><text class="t ty" x="2069" y="2352.5"><tspan x="2069" dy="0">"点燃"，"加热"和"高温"的目的都是提供反应</tspan><tspan x="2069" dy="16.5">物所需能量，促使反应发生。"点燃"是物质直</tspan><tspan x="2069" dy="16.5">接接触火焰并使其燃烧。</tspan></text></g>
<g id="y2c"><rect class="ny" x="2062" y="2428" width="269" height="62"/><text class="t ty" x="2069" y="2442.5"><tspan x="2069" dy="0">"加热"是物质未直接接触热源而吸收到热量，</tspan><tspan x="2069" dy="16.5">温度一般不超过500℃，在实验室中，一般用</tspan><tspan x="2069" dy="16.5">酒精灯提供加热条件。</tspan></text></g>
<g id="y2d"><rect class="ny" x="2062" y="2518" width="269" height="94"/><text class="t ty" x="2069" y="2532"><tspan x="2069" dy="0">"高温"一般是指800℃以上，一般的火焰无法</tspan><tspan x="2069" dy="16.5">达到的温度，在实验室时一般用酒精喷灯提供</tspan><tspan x="2069" dy="16.5">高温条件。一般只有在固体与固体及固体分解</tspan><tspan x="2069" dy="16.5">时使用。所以，在书写化学方程式时，点燃、</tspan><tspan x="2069" dy="16.5">加热、高温要有所区别。</tspan></text></g>
<g id="y2e"><rect class="ny" x="2062" y="2753" width="243" height="29"/><text class="t ty c" x="2183.5" y="2767.5">练习：下列化学反应的条件分别是什么：</text></g>
<g id="y2e1"><rect class="ny" x="2330" y="2640" width="140" height="28"/><text class="t ty c" x="2400" y="2654">氧化铜+氢气→铜+水；</text></g>
<g id="y2e2"><rect class="ny" x="2330" y="2697" width="165" height="28"/><text class="t ty c" x="2412.5" y="2711">氧化铜+碳→铜+二氧化碳；</text></g>
<g id="y2e3"><rect class="ny" x="2330" y="2753" width="168" height="29"/><text class="t ty c" x="2414" y="2767.5">碳酸钙→氧化钙+二氧化碳；</text></g>
<g id="y2e4"><rect class="ny" x="2330" y="2810" width="153" height="29"/><text class="t ty c" x="2406.5" y="2824.5">铁+氧气→四氧化三铁。</text></g>
<g id="y2e5"><rect class="ny" x="2330" y="2866" width="174" height="29"/><text class="t ty c" x="2417" y="2880.5">答案：加热;加热;高温;点燃。</text></g>
<g id="y3"><rect class="ny" x="1830" y="2989" width="122" height="28"/><text class="t ty c" x="1891" y="3003">3."烟"和"雾"的区别</text></g>
<g id="y3a"><rect class="ny" x="1976" y="2923" width="269" height="61"/><text class="t ty" x="1983" y="2937"><tspan x="1983" dy="0">"烟"：是大量固体小颗粒分散到空气中形成的</tspan><tspan x="1983" dy="16.5">，它属于固体，如磷在空气中燃烧，产生的大</tspan><tspan x="1983" dy="16.5">量白烟就是五氧化二磷的固体小颗粒。</tspan></text></g>
<g id="y3b"><rect class="ny" x="1976" y="3013" width="269" height="77"/><text class="t ty" x="1983" y="3026.75"><tspan x="1983" dy="0">"雾"：是大量小液滴分散到空气中形成的，它</tspan><tspan x="1983" dy="16.5">属于液体。比如，打开浓盐酸的瓶盖，会发现</tspan><tspan x="1983" dy="16.5">在瓶口上方出现白雾，这些白雾就是盐酸的小</tspan><tspan x="1983" dy="16.5">液滴。</tspan></text></g>
<g id="y4"><rect class="ny" x="1830" y="3148" width="148" height="28"/><text class="t ty c" x="1904" y="3162">4."气味"和"味道"的区别</text></g>
<g id="y4a"><rect class="ny" x="2002" y="3119" width="151" height="29"/><text class="t ty c" x="2077.5" y="3133.5">"气味"是用鼻子闻出来的</text></g>
<g id="y4b"><rect class="ny" x="2002" y="3176" width="151" height="28"/><text class="t ty c" x="2077.5" y="3190">"味道"是用嘴尝出来的。</text></g>
<g id="y5"><rect class="ny" x="1830" y="3303" width="126" height="27"/><text class="t ty c" x="1893" y="3316.5">5."焰"和 "光"的区别</text></g>
<g id="y5a"><rect class="ny" x="1980" y="3232" width="269" height="61"/><text class="t ty" x="1987" y="3246"><tspan x="1987" dy="0">"焰"：是可燃性气体，熔沸点低、易气化的可</tspan><tspan x="1987" dy="16.5">燃性固体、液体燃烧时形成的，如氢气、甲烷</tspan><tspan x="1987" dy="16.5">酒精、硫等。</tspan></text></g>
<g id="y5b"><rect class="ny" x="1980" y="3322" width="269" height="94"/><text class="t ty" x="1987" y="3336"><tspan x="1987" dy="0">"光"：是木炭、镁条等高沸点难气化的可燃物</tspan><tspan x="1987" dy="16.5">燃烧时，温度达不到气化的条件，因此只会发</tspan><tspan x="1987" dy="16.5">光，不可能产生火焰。如：硫在空气中燃烧现</tspan><tspan x="1987" dy="16.5">象是发出淡蓝色火焰，木炭在氧气中燃烧现象</tspan><tspan x="1987" dy="16.5">是发出白光。</tspan></text></g>
<g id="y6"><rect class="ny" x="1830" y="3485" width="148" height="28"/><text class="t ty c" x="1904" y="3499">6."浑浊"和"混浊"的区别</text></g>
<g id="y6a"><rect class="ny" x="2002" y="3445" width="254" height="28"/><text class="t ty c" x="2129" y="3459">"浑浊"：是由于沉淀或沉积物而混浊不清。</text></g>
<g id="y6b"><rect class="ny" x="2002" y="3502" width="268" height="76"/><text class="t ty" x="2009" y="3515.25"><tspan x="2009" dy="0">"混浊"：是水、空气等含有杂质，不清洁，不</tspan><tspan x="2009" dy="16.5">明澈。如：二氧化碳通入澄清石灰水中的现象</tspan><tspan x="2009" dy="16.5">是澄清石灰水变浑浊，因为反应生成了碳酸钙</tspan><tspan x="2009" dy="16.5">白色沉淀。</tspan></text></g>
<g id="y7"><rect class="ny" x="1830" y="3681" width="88" height="29"/><text class="t ty c" x="1874" y="3695.5">7."碳"和 "炭"</text></g>
<g id="y7a"><rect class="ny" x="1942" y="3607" width="268" height="77"/><text class="t ty" x="1949" y="3620.75"><tspan x="1949" dy="0">"碳"：是指碳元素，是一个与化学的"元素"密</tspan><tspan x="1949" dy="16.5">切相关的概念，只用作化学用语，在表示元素</tspan><tspan x="1949" dy="16.5">和含碳的化合物时使用,如:二氧化碳,碳化物,碳</tspan><tspan x="1949" dy="16.5">酸等。</tspan></text></g>
<g id="y7b"><rect class="ny" x="1942" y="3714" width="268" height="60"/><text class="t ty" x="1949" y="3727.5"><tspan x="1949" dy="0">"炭"：是指无恒定组成及性质的含碳的具体物</tspan><tspan x="1949" dy="16.5">质。如：炭黑、木炭、活性炭、煤炭等，它们</tspan><tspan x="1949" dy="16.5">都是由碳元素组成的单质。</tspan></text></g>
</g>
</svg>
